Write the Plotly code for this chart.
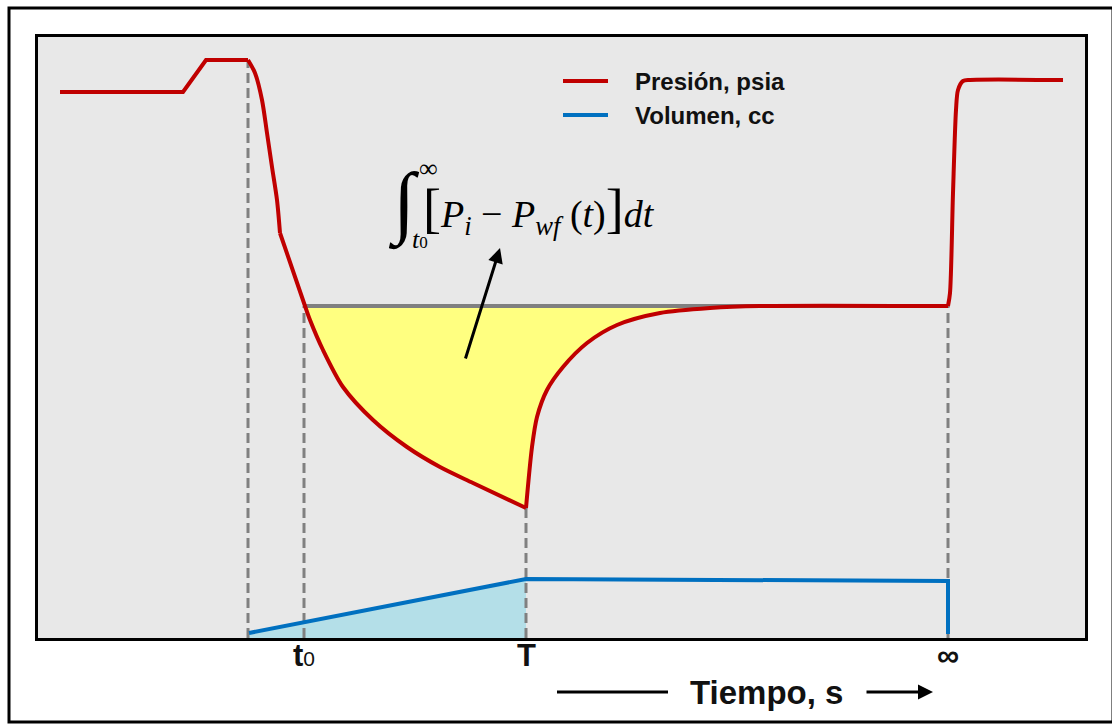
import plotly.graph_objects as go

# ---- pressure record (time units, pressure units) ----
pre_t = [2.2, 14.5, 16.8, 21.0]
pre_p = [54.6, 54.6, 57.8, 57.8]

drop_t = [21.0, 21.7, 22.4, 22.9, 23.4, 23.9, 24.2]
drop_p = [57.8, 56.5, 53.8, 50.5, 47.1, 43.8, 40.5]

decline_t = [24.2, 26.7, 27.2, 28.5, 30.5, 33.5, 36.9, 40.2, 43.5, 48.8]
decline_p = [40.5, 33.2, 31.8, 28.8, 25.1, 21.8, 19.1, 17.1, 15.5, 13.0]

recovery_t = [48.8, 49.4, 49.9, 50.9, 52.5, 54.9, 57.9, 62.2, 67.2, 72.2, 91.0]
recovery_p = [13.0, 19.1, 22.1, 24.8, 27.1, 29.5, 31.3, 32.5, 33.0, 33.2, 33.2]

rise_t = [91.0, 91.2, 91.5, 91.8, 92.0, 92.5, 93.2, 102.5]
rise_p = [33.2, 34.5, 44.5, 52.8, 54.8, 55.7, 55.8, 55.8]

# initial reservoir pressure level
p_i = 33.2

# ---- injected volume ----
vol_t = [21.1, 48.8, 91.0, 91.0]
vol_v = [0.5, 5.9, 5.7, 0.4]

# ---- event times ----
event_t = [21.0, 26.6, 48.8, 91.0]
event_p = [57.8, 33.2, 13.0, 33.2]
tick_t = [26.6, 48.8, 91.0]
tick_text = ["<b>t</b><span style='font-size:21px'>0</span>", "<b>T</b>", "<b>∞</b>"]

RED = "#c00000"
BLUE = "#0070c0"
GRAY = "#808080"
YELLOW = "#ffff80"
LIGHTBLUE = "#b4dfe8"
SANS = "Arial, Liberation Sans, sans-serif"
SERIF = "Times New Roman, Liberation Serif, serif"
SMOOTH = 0.8

W, H = 1112, 724
L, R, T, B = 38, 27, 37, 86


def px_x(px):
    return (px - L) / (W - L - R)


def px_y(py):
    return (H - B - py) / (H - T - B)


fig = go.Figure()

# yellow area between p_i and the pressure curve (from t0 onwards)
fill_decline_t, fill_decline_p = decline_t[1:], decline_p[1:]
fig.add_trace(go.Scatter(x=[fill_decline_t[0], fill_decline_t[-1]], y=[p_i, p_i], mode="lines",
                         line=dict(width=0), hoverinfo="skip"))
fig.add_trace(go.Scatter(x=fill_decline_t, y=fill_decline_p, mode="lines",
                         line=dict(width=0, shape="spline", smoothing=SMOOTH),
                         fill="tonexty", fillcolor=YELLOW, hoverinfo="skip"))
fig.add_trace(go.Scatter(x=[recovery_t[0], recovery_t[-1]], y=[p_i, p_i], mode="lines",
                         line=dict(width=0), hoverinfo="skip"))
fig.add_trace(go.Scatter(x=recovery_t, y=recovery_p, mode="lines",
                         line=dict(width=0, shape="spline", smoothing=SMOOTH),
                         fill="tonexty", fillcolor=YELLOW, hoverinfo="skip"))

# light blue area under the injected volume
fig.add_trace(go.Scatter(x=vol_t[:2], y=vol_v[:2], mode="lines", line=dict(width=0),
                         fill="tozeroy", fillcolor=LIGHTBLUE, hoverinfo="skip"))

# p_i reference line
fig.add_trace(go.Scatter(x=[event_t[1], event_t[3]], y=[p_i, p_i], mode="lines",
                         line=dict(color=GRAY, width=4)))

# dashed event markers
for t, p in zip(event_t, event_p):
    fig.add_trace(go.Scatter(x=[t, t], y=[0, p], mode="lines",
                             line=dict(color=GRAY, width=3, dash="10px,5px")))

# volume curve
fig.add_trace(go.Scatter(x=vol_t, y=vol_v, mode="lines", line=dict(color=BLUE, width=4)))

# pressure curve
fig.add_trace(go.Scatter(x=pre_t, y=pre_p, mode="lines", line=dict(color=RED, width=4)))
for tt, pp in [(drop_t, drop_p), (decline_t, decline_p), (recovery_t, recovery_p), (rise_t, rise_p)]:
    fig.add_trace(go.Scatter(x=tt, y=pp, mode="lines",
                             line=dict(color=RED, width=4, shape="spline", smoothing=SMOOTH)))

shapes = [
    # outer frame
    dict(type="rect", xref="paper", yref="paper", x0=px_x(9), x1=px_x(1113), y0=px_y(722), y1=px_y(8),
         line=dict(color="black", width=3), layer="below"),
    # legend keys
    dict(type="line", xref="paper", yref="paper", x0=px_x(563), x1=px_x(608), y0=px_y(81), y1=px_y(81),
         line=dict(color=RED, width=4)),
    dict(type="line", xref="paper", yref="paper", x0=px_x(563), x1=px_x(608), y0=px_y(115), y1=px_y(115),
         line=dict(color=BLUE, width=4)),
    # left part of the time arrow
    dict(type="line", xref="paper", yref="paper", x0=px_x(557), x1=px_x(668), y0=px_y(692), y1=px_y(692),
         line=dict(color="black", width=3)),
]

annotations = [
    dict(xref="paper", yref="paper", x=px_x(633), y=px_y(81), text="<b>Presión, psia</b>", showarrow=False,
         xanchor="left", yanchor="middle", font=dict(family=SANS, size=24, color="#111111")),
    dict(xref="paper", yref="paper", x=px_x(633), y=px_y(115), text="<b>Volumen, cc</b>", showarrow=False,
         xanchor="left", yanchor="middle", font=dict(family=SANS, size=24, color="#111111")),
    dict(xref="paper", yref="paper", x=px_x(766), y=px_y(692), text="<b>Tiempo, s</b>", showarrow=False,
         xanchor="center", yanchor="middle", font=dict(family=SANS, size=33, color="#111111")),
    # right part of the time arrow
    dict(xref="paper", yref="paper", x=px_x(933), y=px_y(692), ax=-68, ay=0, text="", showarrow=True,
         arrowhead=2, arrowsize=1, arrowwidth=3, arrowcolor="black"),
    # formula
    dict(xref="paper", yref="paper", x=px_x(386), y=px_y(203), text="<i>∫</i>", showarrow=False,
         xanchor="left", yanchor="middle", font=dict(family=SERIF, size=80, color="black")),
    dict(xref="paper", yref="paper", x=px_x(417), y=px_y(168), text="∞", showarrow=False,
         xanchor="left", yanchor="middle", font=dict(family=SERIF, size=26, color="black")),
    dict(xref="paper", yref="paper", x=px_x(410), y=px_y(239),
         text="<i>t</i><span style='font-size:17px'>0</span>",
         showarrow=False, xanchor="left", yanchor="middle", font=dict(family=SERIF, size=26, color="black")),
    dict(xref="paper", yref="paper", x=px_x(421), y=px_y(210),
         text="<span style='font-size:54px'>[</span><i>P</i><sub><i>i</i></sub> − <i>P</i><sub><i>wf</i></sub> "
              "(<i>t</i>)<span style='font-size:54px'>]</span><i>dt</i>",
         showarrow=False, xanchor="left", yanchor="middle", font=dict(family=SERIF, size=38, color="black")),
    # arrow pointing at the shaded area
    dict(x=46.2, y=39.0, ax=42.7, ay=27.8, xref="x", yref="y", axref="x", ayref="y", text="",
         showarrow=True, arrowhead=2, arrowsize=1, arrowwidth=3, arrowcolor="black"),
]

for t, txt in zip(tick_t, tick_text):
    annotations.append(dict(xref="x", yref="paper", x=t, y=px_y(655), text=txt, showarrow=False,
                            xanchor="center", yanchor="middle",
                            font=dict(family=SANS, size=31, color="#111111")))

fig.update_layout(
    width=W, height=H,
    margin=dict(l=L, r=R, t=T, b=B),
    paper_bgcolor="white",
    plot_bgcolor="#e8e8e8",
    showlegend=False,
    shapes=shapes,
    annotations=annotations,
    xaxis=dict(range=[0, 104.7], showgrid=False, zeroline=False, showticklabels=False, ticks="",
               showline=True, mirror=True, linecolor="black", linewidth=3),
    yaxis=dict(range=[0, 60.1], showgrid=False, zeroline=False, showticklabels=False, ticks="",
               showline=True, mirror=True, linecolor="black", linewidth=3),
)

fig.write_html("out.html")
